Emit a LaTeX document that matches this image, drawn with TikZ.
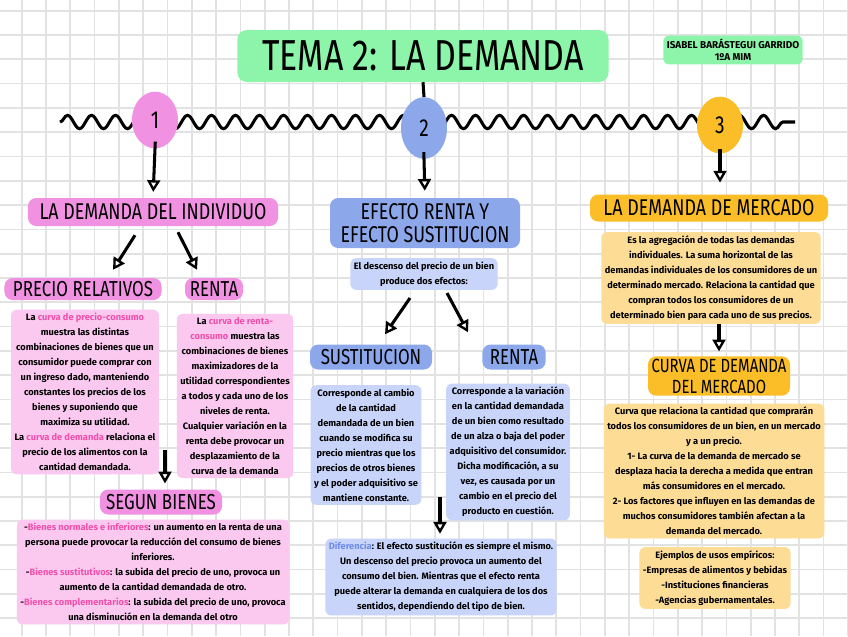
\documentclass[tikz,border=0pt]{standalone}
\usepackage{fontspec}
\setmainfont{Fira Sans}
\newfontfamily\handfont[FakeStretch=0.78]{Fira Sans}
\usetikzlibrary{arrows.meta,shapes.geometric,decorations.pathmorphing,calc}

\definecolor{verde}{HTML}{8CF5A9}
\definecolor{rosa}{HTML}{F091E1}
\definecolor{rosaclaro}{HTML}{FBC8F0}
\definecolor{rosatexto}{HTML}{F050AA}
\definecolor{azul}{HTML}{8CA8EB}
\definecolor{azulclaro}{HTML}{C8D4FA}
\definecolor{azultexto}{HTML}{6E8CE6}
\definecolor{naranja}{HTML}{FBBE28}
\definecolor{naranjaclaro}{HTML}{FDDC96}
\definecolor{cuadro}{HTML}{E2E2E2}

\newcommand{\hlrosa}[1]{\textcolor{rosatexto}{#1}}
\newcommand{\hlazul}[1]{\textcolor{azultexto}{#1}}

\begin{document}
\begin{tikzpicture}[
	x=0.03cm, y=-0.03cm,
	gridline/.style={draw=cuadro, line width=1.4pt},
	title/.style={
		fill=verde, rounded corners=8pt,
		minimum width=11.13cm, minimum height=1.56cm,
		font=\handfont\fontsize{37}{37}\selectfont
	},
	head/.style={
		rounded corners=7pt, inner sep=2pt, align=center,
		font=\handfont\fontsize{19.5}{20}\selectfont
	},
	sub/.style={head, font=\handfont\fontsize{18.5}{19}\selectfont},
	txt/.style={
		rounded corners=5pt, align=center, inner sep=3pt,
		font=\bfseries\fontsize{7.9}{12.8}\selectfont
	},
	num/.style={
		ellipse, inner sep=0pt,
		minimum width=1.38cm, minimum height=1.7cm,
		font=\handfont\fontsize{21}{21}\selectfont
	},
	arr/.style={-{Triangle[open, length=10pt, width=11pt, line width=2pt]}, line width=2.6pt},
	wave/.style={line width=2.6pt, decorate, decoration={snake, segment length=0.72cm, amplitude=0.2cm}},
	]
	
	% background and grid
	\useasboundingbox (0,0) rectangle (848,636);
	\fill[white] (0,0) rectangle (848,636);
	\foreach \gx in {0,...,34}
		\draw[gridline] (21.7+24.3*\gx,0) -- (21.7+24.3*\gx,636);
	\foreach \gy in {0,...,25}
		\draw[gridline] (0,10.7+24.3*\gy) -- (848,10.7+24.3*\gy);
	
	% title and timeline
	\node[title] (tema) at (423,56) {TEMA 2: LA DEMANDA};
	\node[txt, fill=verde, font=\bfseries\fontsize{8.5}{10.5}\selectfont] (autora) at (733,50)
		{ISABEL BARÁSTEGUI GARRIDO\\1ºA MIM};
	
	\coordinate (waveL) at (60,122);
	\coordinate (waveR) at (795,122);
	\draw[wave] (waveL) -- (waveR);
	
	\node[num, fill=rosa]    (uno)  at (155,120) {1};
	\node[num, fill=azul, minimum height=1.85cm] (dos) at (424,128) {2};
	\node[num, fill=naranja] (tres) at (720,125) {3};
	\draw[line width=2.6pt] (tema.south) -- (dos.north);
	
	% main headings
	\node[head, fill=rosa, minimum width=7.5cm, minimum height=0.84cm] (individuo) at (153,212) {LA DEMANDA DEL INDIVIDUO};
	\node[head, fill=azul, minimum width=5.7cm, minimum height=1.5cm] (efectos) at (425,223) {EFECTO RENTA Y\\EFECTO SUSTITUCION};
	\node[head, fill=naranja, minimum width=7.14cm, minimum height=0.81cm] (mercado) at (709,208) {LA DEMANDA DE MERCADO};
	
	\draw[arr, shorten <=-6pt, shorten >=5pt] (uno.south) -- (individuo.north);
	\draw[arr, shorten <=-6pt, shorten >=6pt] (dos.south) -- (efectos.north);
	\draw[arr, shorten <=-4pt, shorten >=10pt] (tres.south) -- (mercado.north -| tres.south);
	
	% 1: la demanda del individuo
	\node[sub, fill=rosa, minimum width=4.71cm, minimum height=0.66cm] (precio) at (83,289) {PRECIO RELATIVOS};
	\node[sub, fill=rosa, minimum width=1.74cm, minimum height=0.66cm] (rentaI) at (214,289) {RENTA};
	\draw[arr] ($(individuo.south)+(-18,9)$) -- ($(precio.north)+(30,-8)$);
	\draw[arr] ($(individuo.south)+(25,6)$) -- ($(rentaI.north)+(-17,-8)$);
	
	\node[txt, fill=rosaclaro] (precioTxt) at (85,392) {La \hlrosa{curva de precio-consumo}\\
		muestra las distintas\\ combinaciones de bienes que un\\ consumidor puede comprar con\\
		un ingreso dado, manteniendo\\ constantes los precios de los\\ bienes y suponiendo que\\
		maximiza su utilidad.\\ La \hlrosa{curva de demanda} relaciona el\\
		precio de los alimentos con la\\ cantidad demandada.};
	\node[txt, fill=rosaclaro] (rentaITxt) at (235,396) {La \hlrosa{curva de renta-}\\
		\hlrosa{consumo} muestra las\\ combinaciones de bienes\\ maximizadores de la\\
		utilidad correspondientes\\ a todos y cada uno de los\\ niveles de renta.\\
		Cualquier variación en la\\ renta debe provocar un\\ desplazamiento de la\\ curva de la demanda};
	
	\node[sub, fill=rosa, minimum width=3.66cm, minimum height=0.75cm] (segun) at (161,502) {SEGUN BIENES};
	\coordinate (segunTop) at (165,450);
	\draw[arr, shorten >=5pt] (segunTop) -- (segunTop |- segun.north);
	\node[txt, fill=rosaclaro] (segunTxt) at (153,572) {-\hlrosa{Bienes normales e inferiores}: un aumento en la renta de una\\
		persona puede provocar la reducción del consumo de bienes\\ inferiores.\\
		-\hlrosa{Bienes sustitutivos}: la subida del precio de uno, provoca un\\
		aumento de la cantidad demandada de otro.\\
		-\hlrosa{Bienes complementarios}: la subida del precio de uno, provoca\\
		una disminución en la demanda del otro};
	
	% 2: efecto renta y efecto sustitucion
	\node[txt, fill=azulclaro] (intro) at (424,274) {El descenso del precio de un bien\\ produce dos efectos:};
	\node[sub, fill=azul, minimum width=3.66cm, minimum height=0.75cm] (sustit) at (371,357) {SUSTITUCION};
	\node[sub, fill=azul, minimum width=1.9cm, minimum height=0.75cm] (rentaE) at (514,357) {RENTA};
	\draw[arr] ($(intro.south)+(-14,8)$) -- ($(sustit.north)+(14,-10)$);
	\draw[arr] ($(intro.south)+(23,3)$) -- ($(rentaE.north)+(-46,-12)$);
	
	\node[txt, fill=azulclaro] (sustitTxt) at (366,445) {Corresponde al cambio\\ de la cantidad\\
		demandada de un bien\\ cuando se modifica su\\ precio mientras que los\\
		precios de otros bienes\\ y el poder adquisitivo se\\ mantiene constante.};
	\node[txt, fill=azulclaro] (rentaETxt) at (508,452) {Corresponde a la variación\\
		en la cantidad demandada\\ de un bien como resultado\\ de un alza o baja del poder\\
		adquisitivo del consumidor.\\ Dicha modificación, a su\\ vez, es causada por un\\
		cambio en el precio del\\ producto en cuestión.};
	
	\node[txt, fill=azulclaro] (diferencia) at (441,577) {\hlazul{Diferencia}: El efecto sustitución es siempre el mismo.\\
		Un descenso del precio provoca un aumento del\\ consumo del bien. Mientras que el efecto renta\\
		puede alterar la demanda en cualquiera de los dos\\ sentidos, dependiendo del tipo de bien.};
	\coordinate (difTop) at (440,497);
	\draw[arr, shorten >=4pt] (difTop) -- (difTop |- diferencia.north);
	
	% 3: la demanda de mercado
	\node[txt, fill=naranjaclaro] (mercadoTxt) at (711,278) {Es la agregación de todas las demandas\\
		individuales. La suma horizontal de las\\ demandas individuales de los consumidores de un\\
		determinado mercado. Relaciona la cantidad que\\ compran todos los consumidores de un\\
		determinado bien para cada uno de sus precios.};
	\node[sub, fill=naranja, font=\handfont\fontsize{16.3}{18}\selectfont, minimum width=4.26cm, minimum height=1.1cm] (curva) at (719,376) {CURVA DE DEMANDA\\DEL MERCADO};
	\draw[arr, shorten >=4pt] (mercadoTxt.south -| curva.north) -- (curva.north);
	
	\node[txt, fill=naranjaclaro] (curvaTxt) at (714,471) {Curva que relaciona la cantidad que comprarán\\
		todos los consumidores de un bien, en un mercado\\ y a un precio.\\
		1- La curva de la demanda de mercado se\\ desplaza hacia la derecha a medida que entran\\
		más consumidores en el mercado.\\ 2- Los factores que influyen en las demandas de\\
		muchos consumidores también afectan a la\\ demanda del mercado.};
	\node[txt, fill=naranjaclaro] (ejemplos) at (715,578) {Ejemplos de usos empíricos:\\
		-Empresas de alimentos y bebidas\\ -Instituciones financieras\\ -Agencias gubernamentales.};
	
\end{tikzpicture}
\end{document}
